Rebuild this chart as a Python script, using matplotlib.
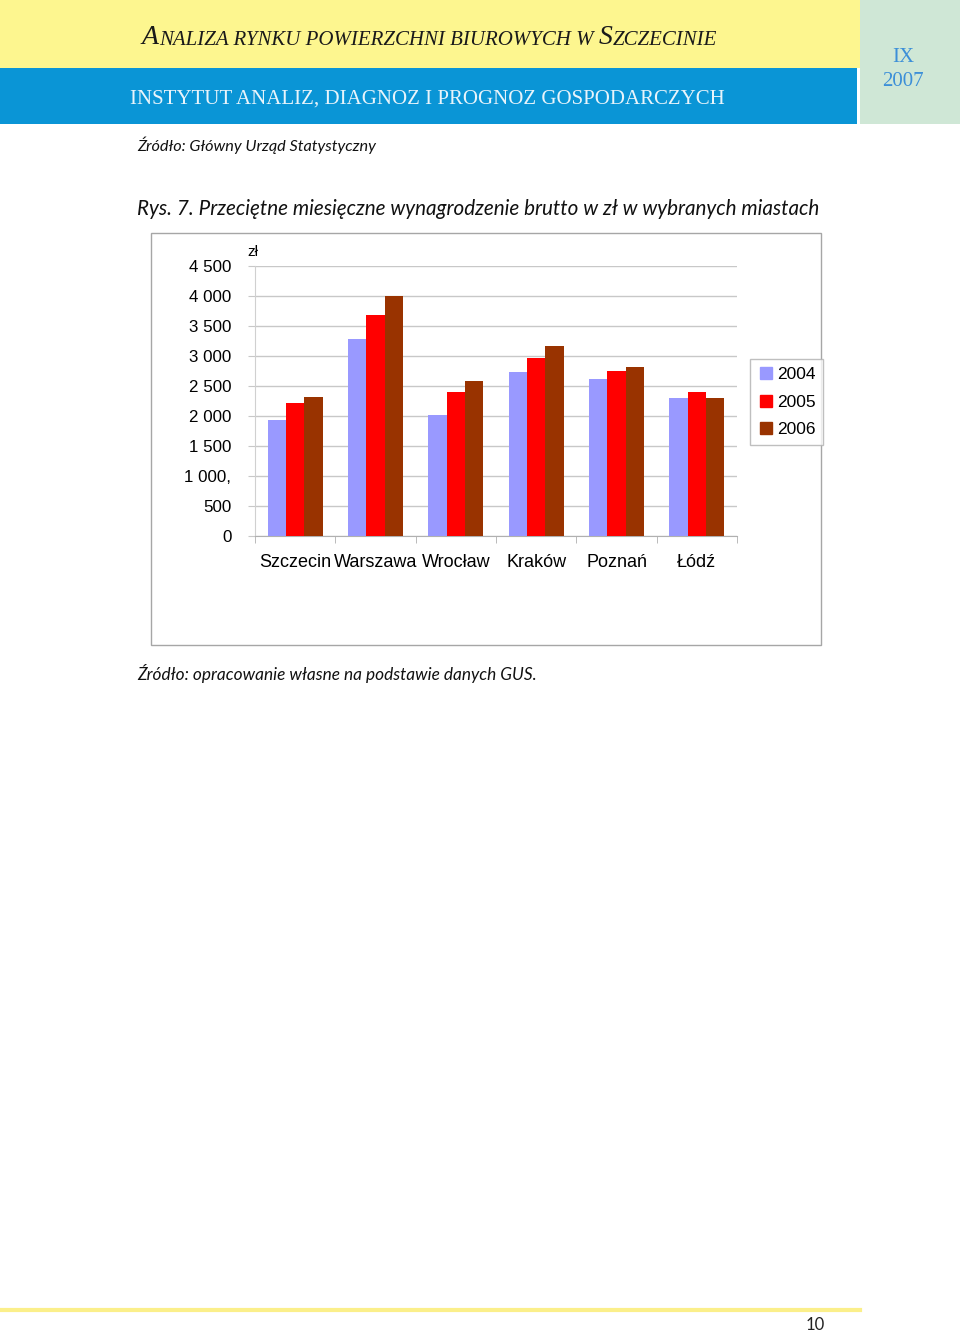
import matplotlib
matplotlib.use("Agg")
import matplotlib.pyplot as plt
from matplotlib.patches import Rectangle
from matplotlib.lines import Line2D
from matplotlib.text import Annotation
import numpy as np

# Dane
miasta = ["Szczecin", "Warszawa", "Wrocław", "Kraków", "Poznań", "Łódź"]
lata = ["2004", "2005", "2006"]
w2004 = [1940, 3280, 2020, 2730, 2625, 2300]
w2005 = [2225, 3680, 2400, 2970, 2750, 2400]
w2006 = [2325, 4000, 2590, 3170, 2810, 2300]
yticks = [0, 500, 1000, 1500, 2000, 2500, 3000, 3500, 4000, 4500]
ytick_labels = ["0", "500", "1 000,", "1 500", "2 000", "2 500", "3 000", "3 500", "4 000", "4 500"]

kolory = ["#9999FF", "#FF0000", "#993300"]

W, H = 960, 1335
fig = plt.figure(figsize=(W / 100, H / 100), dpi=100)


def fx(px):
    return px / W


def fy(py):
    return 1 - py / H


# Nagłówek - trzy kolorowe pola
fig.patches.append(Rectangle((0, fy(68)), fx(860), 68 / H, transform=fig.transFigure,
                             facecolor="#FDF68F", edgecolor="none"))
fig.patches.append(Rectangle((0, fy(124)), fx(857), 56 / H, transform=fig.transFigure,
                             facecolor="#0A95D6", edgecolor="none"))
fig.patches.append(Rectangle((fx(860), fy(124)), fx(100), 124 / H, transform=fig.transFigure,
                             facecolor="#CFE7D6", edgecolor="none"))

# tytuł w kapitalikach - składany z kawałków jeden za drugim
kawalki = [("A", 20), ("NALIZA RYNKU POWIERZCHNI BIUROWYCH W ", 15), ("S", 20), ("ZCZECINIE", 15)]
prev = fig.text(fx(142), fy(44), kawalki[0][0], fontsize=kawalki[0][1], family="Liberation Serif",
                style="italic", color="#1a1a1a", va="baseline")
for txt, fs in kawalki[1:]:
    prev = fig.add_artist(Annotation(
        txt, xy=(1, 0), xycoords=prev, va="bottom", ha="left", fontsize=fs,
        family="Liberation Serif", style="italic", color="#1a1a1a"))

fig.text(fx(130), fy(104), "INSTYTUT ANALIZ, DIAGNOZ I PROGNOZ GOSPODARCZYCH", fontsize=15,
         family="Liberation Serif", color="#E8F4FB", va="baseline")
fig.text(fx(903), fy(57), "IX", fontsize=15, family="Liberation Serif", color="#3C8FD8",
         ha="center", va="center")
fig.text(fx(903), fy(81), "2007", fontsize=15, family="Liberation Serif", color="#3C8FD8",
         ha="center", va="center")

# Teksty strony
fig.text(fx(137), fy(145), "Źródło: Główny Urząd Statystyczny", fontsize=11.7, style="italic",
         family="Lato", color="#111111", va="center")
fig.text(fx(137), fy(209), "Rys. 7. Przeciętne miesięczne wynagrodzenie brutto w zł w wybranych miastach",
         fontsize=14.9, style="italic", family="Lato", color="#111111", va="center")
fig.text(fx(137), fy(674), "Źródło: opracowanie własne na podstawie danych GUS.", fontsize=12.4,
         style="italic", family="Lato", color="#111111", va="center")

# ramka wykresu
fig.patches.append(Rectangle((fx(151), fy(645)), fx(670), (645 - 233) / H, transform=fig.transFigure,
                             facecolor="none", edgecolor="#A6A6A6", linewidth=1))

# Wykres
ax = fig.add_axes([fx(255), fy(536), fx(737 - 255), (536 - 266) / H])
x = np.arange(len(miasta)) + 0.5
bw = 0.228
for i, (vals, kol, rok) in enumerate(zip([w2004, w2005, w2006], kolory, lata)):
    ax.bar(x + (i - 1) * bw, vals, width=bw, color=kol, label=rok, zorder=3)

ax.set_xlim(0, len(miasta))
ax.set_ylim(0, 4500)
ax.set_yticks(yticks)
ax.set_yticklabels(ytick_labels, family="Liberation Sans", fontsize=12.2)
ax.yaxis.grid(True, color="#C8C8C8", linewidth=1, zorder=0)
ax.tick_params(axis="y", length=5, color="#C8C8C8", pad=12)
ax.set_xticks(x)
ax.set_xticklabels(miasta, family="Liberation Sans", fontsize=13)
ax.set_xticks(np.arange(len(miasta) + 1), minor=True)
ax.tick_params(axis="x", which="major", length=0, pad=13)
ax.tick_params(axis="x", which="minor", length=5, color="#B0B0B0")
for s in ["top", "right"]:
    ax.spines[s].set_visible(False)
ax.spines["left"].set_color("#D0D0D0")
ax.spines["bottom"].set_color("#B0B0B0")
ax.text(-0.09, 4740, "zł", family="Liberation Sans", fontsize=11, ha="left", va="center",
        clip_on=False)

handles = [Line2D([], [], marker="s", linestyle="none", markersize=9, markerfacecolor=k,
                  markeredgecolor=k) for k in kolory]
fig.legend(handles, lata, loc="upper left", bbox_to_anchor=(fx(750), fy(359)),
           prop={"family": "Liberation Sans", "size": 12.5}, frameon=True, fancybox=False,
           edgecolor="#B0B0B0", handletextpad=0.1, handlelength=1.0, borderpad=0.45,
           labelspacing=0.72, borderaxespad=0)

# Stopka
fig.add_artist(Line2D([0, fx(860)], [fy(1310), fy(1310)], color="#FBEF8A", linewidth=3,
                      transform=fig.transFigure))
fig.text(fx(815), fy(1325), "10", fontsize=12, family="Lato", color="#222222",
         ha="center", va="center")

fig.savefig("out.png", dpi=100)
